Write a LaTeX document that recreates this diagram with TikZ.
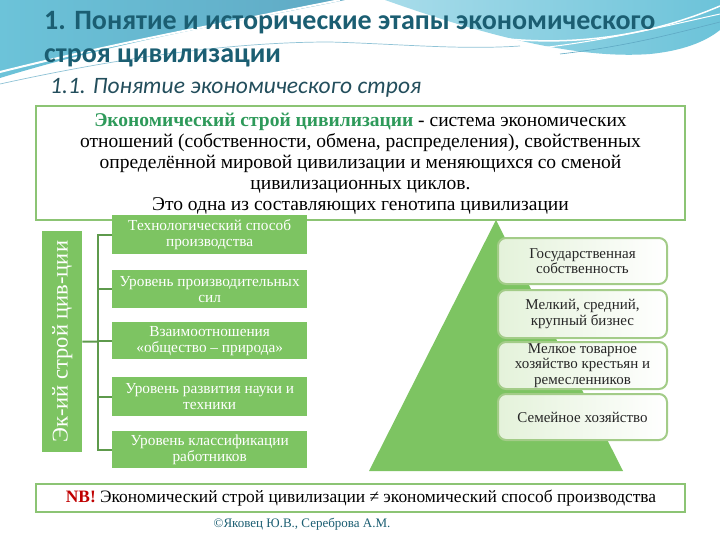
\documentclass[tikz,border=0pt]{standalone}
\usepackage{fontspec}
\setmainfont{Liberation Serif}
\newfontfamily\carlito{Carlito}
\usetikzlibrary{positioning}
\definecolor{gfill}{HTML}{7DC462}
\definecolor{gline}{HTML}{8CC474}
\definecolor{brk}{HTML}{5E9A4C}
\definecolor{titlec}{HTML}{1B5E72}
\definecolor{subc}{HTML}{234E5C}
\definecolor{defgreen}{HTML}{2E9A5A}
\definecolor{nbred}{HTML}{C00000}
\definecolor{rbox}{HTML}{A3CC88}
\definecolor{rboxfill}{HTML}{E4F2DA}
\definecolor{skyA}{HTML}{6CC3D9}
\definecolor{skyB}{HTML}{5FA9C4}
\definecolor{skyC}{HTML}{A8DCEA}
\tikzset{
  deftext/.style={anchor=base, inner sep=0pt, font=\fontsize{19.5}{21}\selectfont},
  gbox/.style={fill=gfill, draw=none, minimum width=195pt, anchor=north west, inner sep=0pt,
    text=white, align=center, font=\fontsize{15.3}{16}\selectfont},
  rboxst/.style={draw=rbox, line width=2pt, rounded corners=8pt, left color=rboxfill, right color=white,
    minimum width=169pt, anchor=north west, inner sep=0pt, align=center, text=black!85,
    font=\fontsize{15}{15.5}\selectfont},
  brline/.style={draw=brk, line width=2pt},
  frame/.style={draw=gline, line width=2pt, fill=white}
}
\begin{document}
\begin{tikzpicture}[x=1pt,y=-1pt]
\useasboundingbox (0,0) rectangle (720,540);
\fill[white] (0,0) rectangle (720,540);
% header waves
\shade[left color=skyA, right color=skyB] (0,0) -- (345,0) .. controls (260,18) and (130,38) .. (0,78) -- cycle;
\shade[left color=skyC, right color=skyA] (385,0) .. controls (470,30) and (570,60) .. (650,54) .. controls (690,50) and (710,38) .. (720,30) -- (720,0) -- cycle;
\draw[white, line width=2pt] (0,72) .. controls (120,42) and (220,24) .. (340,0);
\draw[white, line width=1.5pt] (460,32) .. controls (560,52) and (650,36) .. (720,6);
\draw[skyB!70, line width=0.7pt] (0,84) .. controls (100,62) and (220,42) .. (330,42) .. controls (400,44) and (460,50) .. (520,46);
\draw[white, line width=1pt] (540,48) .. controls (610,40) and (670,25) .. (720,14);
\draw[skyB, line width=0.6pt] (560,54) .. controls (630,46) and (680,32) .. (720,22);
% titles
\node[anchor=base west, inner sep=0pt, text=titlec, font=\carlito\bfseries\fontsize{28}{30}\selectfont] (t1) at (44,30) {1. Понятие и исторические этапы экономического};
\node[anchor=base west, inner sep=0pt, text=titlec, font=\carlito\bfseries\fontsize{28}{30}\selectfont] (t2) at (44,63) {строя цивилизации};
\node[anchor=base west, inner sep=0pt, text=subc, font=\carlito\itshape\fontsize{23.5}{26}\selectfont] (t3) at (50,94) {1.1. Понятие экономического строя};
% triangle
\fill[gfill] (496,220) -- (623,471) -- (369,471) -- cycle;
% definition box
\path[frame] (36,106) rectangle (685,220);
\node[deftext] (d1) at (360.5,127) {{\bfseries\color{defgreen}Экономический строй цивилизации} - система экономических};
\node[deftext] (d2) at (360.5,148) {отношений (собственности, обмена, распределения), свойственных};
\node[deftext] (d3) at (360.5,169) {определённой мировой цивилизации и меняющихся со сменой};
\node[deftext] (d4) at (360.5,190) {цивилизационных циклов.};
\node[deftext] (d5) at (360.5,211) {Это одна из составляющих генотипа цивилизации};
% left label
\node[fill=gfill, minimum width=40pt, minimum height=221pt, inner sep=0pt, anchor=north west] (lab) at (42,231) {};
\node[rotate=90, text=white, font=\fontsize{22.5}{24}\selectfont, inner sep=0pt] (labt) at (lab.center) {Эк-ий строй цив-ции};
% green boxes
\node[gbox, minimum height=39pt] (b1) at (112,215) {Технологический способ\\производства};
\node[gbox, minimum height=38pt] (b2) at (112,270) {Уровень производительных\\сил};
\node[gbox, minimum height=37pt] (b3) at (112,322) {Взаимоотношения\\«общество – природа»};
\node[gbox, minimum height=39pt] (b4) at (112,377) {Уровень развития науки и\\техники};
\node[gbox, minimum height=37pt] (b5) at (112,431) {Уровень классификации\\работников};
% bracket
\coordinate (sp) at (98,341.5);
\draw[brline] (b1.west) -- ++(-14,0) |- (b5.west);
\draw[brline] (b2.west) -- ++(-14,0);
\draw[brline] (b3.west) -- ++(-14,0);
\draw[brline] (b4.west) -- ++(-14,0);
\draw[brline] (lab.east) -- (sp);
% right boxes
\node[rboxst, minimum height=46pt] (r1) at (497,237) {Государственная\\собственность};
\node[rboxst, minimum height=48pt] (r2) at (497,289) {Мелкий, средний,\\крупный бизнес};
\node[rboxst, minimum height=47pt] (r3) at (497,341) {Мелкое товарное\\хозяйство крестьян и\\ремесленников};
\node[rboxst, minimum height=46pt] (r4) at (497,393) {Семейное хозяйство};
% NB box
\path[frame] (36,484) rectangle (685,512);
\node[inner sep=0pt, font=\fontsize{17.4}{19}\selectfont] (nb) at (361,498) {{\bfseries\color{nbred}NB!} Экономический строй цивилизации ≠ экономический способ производства};
\node[inner sep=0pt, text=titlec, font=\fontsize{13}{14}\selectfont] (cp) at (302,524) {©Яковец Ю.В., Сереброва А.М.};
\end{tikzpicture}
\end{document}
